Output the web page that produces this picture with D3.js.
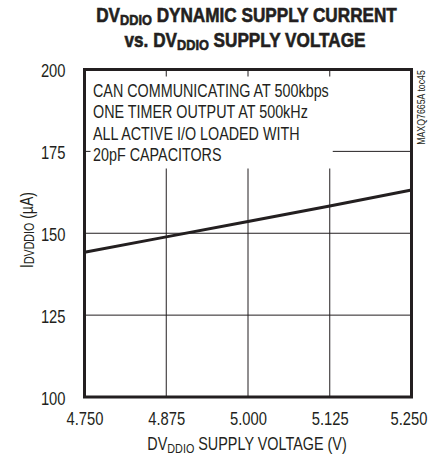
<!DOCTYPE html>
<html>
<head>
<meta charset="utf-8">
<script src="https://cdn.jsdelivr.net/npm/d3@7"></script>
<style>
  html, body { margin: 0; padding: 0; background: #fff; }
  svg { display: block; }
  text { font-family: "Liberation Sans", Arial, sans-serif; fill: #231f20; }
</style>
</head>
<body>
<svg id="chart" width="428" height="458"></svg>
<script>
// Supply voltage (V) and dynamic current (µA)
const voltage = [4.750, 4.875, 5.000, 5.125, 5.250];
const current = [144.2, 148.9, 153.6, 158.3, 163.2];

const xTicks = [4.750, 4.875, 5.000, 5.125, 5.250];
const yTicks = [100, 125, 150, 175, 200];

const noteLines = [
  "CAN COMMUNICATING AT 500kbps",
  "ONE TIMER OUTPUT AT 500kHz",
  "ALL ACTIVE I/O LOADED WITH",
  "20pF CAPACITORS"
];

const INK = "#231f20";
const svg = d3.select("#chart");
const margin = { left: 84.5, right: 428 - 411.5, top: 69.5, bottom: 458 - 397 };
const W = 428 - margin.left - margin.right;
const H = 458 - margin.top - margin.bottom;

const x = d3.scaleLinear().domain([4.75, 5.25]).range([0, W]);
const y = d3.scaleLinear().domain([100, 200]).range([H, 0]);

// condensed text: a group placed at (px, py), optionally rotated, squeezed horizontally
function narrowText(parent, px, py, sx, opts = {}) {
  const rot = opts.rotate ? ` rotate(${opts.rotate})` : "";
  const g = parent.append("g").attr("transform", `translate(${px},${py})${rot} scale(${sx},1)`);
  return g.append("text")
    .attr("text-anchor", opts.anchor || "start")
    .attr("font-size", opts.size || 18);
}

// text with a lowered subscript run
function withSub(t, parts, subSize, drop) {
  parts.forEach(([s, sub]) => {
    const ts = t.append("tspan").text(s);
    if (sub) ts.attr("font-size", subSize).attr("dy", drop);
    else if (t.selectAll("tspan").size() > 1) ts.attr("dy", -drop);
  });
}

const g = svg.append("g").attr("transform", `translate(${margin.left},${margin.top})`);

// grid
g.selectAll(".vgrid").data(xTicks.slice(1, -1)).enter().append("line")
  .attr("x1", d => x(d)).attr("x2", d => x(d))
  .attr("y1", 0).attr("y2", H)
  .attr("stroke", INK).attr("stroke-width", 1);
g.selectAll(".hgrid").data(yTicks.slice(1, -1)).enter().append("line")
  .attr("x1", 0).attr("x2", W)
  .attr("y1", d => y(d)).attr("y2", d => y(d))
  .attr("stroke", INK).attr("stroke-width", 1);

// white panel behind the note
g.append("rect")
  .attr("x", 6).attr("y", 7)
  .attr("width", x(5.125) - 6 + 3).attr("height", 92)
  .attr("fill", "#fff");

// note text
const note = narrowText(g, 8.5, 0, 0.775, { size: 18.5 });
note.selectAll("tspan").data(noteLines).enter().append("tspan")
  .attr("x", 0)
  .attr("y", (d, i) => 27.5 + i * 21.5)
  .text(d => d);

// data line
const line = d3.line().x((d, i) => x(voltage[i])).y(d => y(d));
g.append("path").datum(current)
  .attr("d", line)
  .attr("fill", "none")
  .attr("stroke", INK)
  .attr("stroke-width", 3);

// frame
g.append("rect")
  .attr("x", 0).attr("y", 0).attr("width", W).attr("height", H)
  .attr("fill", "none").attr("stroke", INK).attr("stroke-width", 3);

// axis tick labels (no tick marks)
const xAxis = d3.axisBottom(x).tickValues(xTicks).tickFormat(d3.format(".3f")).tickSize(0).tickPadding(15);
const xg = g.append("g").attr("transform", `translate(0,${H})`).call(xAxis);
xg.select(".domain").remove();
xg.selectAll("text").attr("font-size", 18).attr("fill", INK)
  .style("font-family", '"Liberation Sans", Arial, sans-serif')
  .attr("transform", (d, i, n) => (i === n.length - 1 ? "translate(-3,0) " : "") + "scale(0.82,1)");

const yAxis = d3.axisLeft(y).tickValues(yTicks).tickSize(0).tickPadding(19);
const yg = g.append("g").call(yAxis);
yg.select(".domain").remove();
yg.selectAll("text").attr("font-size", 18).attr("fill", INK)
  .style("font-family", '"Liberation Sans", Arial, sans-serif')
  .each(function () {
    const t = d3.select(this);
    const tx = +t.attr("x");
    t.attr("x", 0).attr("dy", "0.4em").attr("transform", `translate(${tx},0) scale(0.82,1)`);
  });

// x axis title
const xt = narrowText(svg, margin.left + W / 2 - 1, 450, 0.8, { anchor: "middle", size: 18 });
withSub(xt, [["DV"], ["DDIO", true], [" SUPPLY VOLTAGE (V)"]], 13.5, 3);

// y axis title
const yt = narrowText(svg, 33, 230, 0.76, { anchor: "middle", size: 18.5, rotate: -90 });
withSub(yt, [["I"], ["DVDDIO", true], [" (µA)"]], 14, 1);

// chart title
const t1 = narrowText(svg, 246.5, 22, 0.88, { anchor: "middle", size: 19.5 })
  .attr("font-weight", "bold").attr("stroke", INK).attr("stroke-width", 0.6);
withSub(t1, [["DV"], ["DDIO", true], [" DYNAMIC SUPPLY CURRENT"]], 14.5, 3);
const t2 = narrowText(svg, 245, 47, 0.88, { anchor: "middle", size: 19.5 })
  .attr("font-weight", "bold").attr("stroke", INK).attr("stroke-width", 0.6);
withSub(t2, [["vs. DV"], ["DDIO", true], [" SUPPLY VOLTAGE"]], 14.5, 3);

// figure id
narrowText(svg, 425, 107.5, 0.88, { anchor: "middle", size: 10, rotate: -90 })
  .text("MAXQ7665A toc45");
</script>
</body>
</html>
